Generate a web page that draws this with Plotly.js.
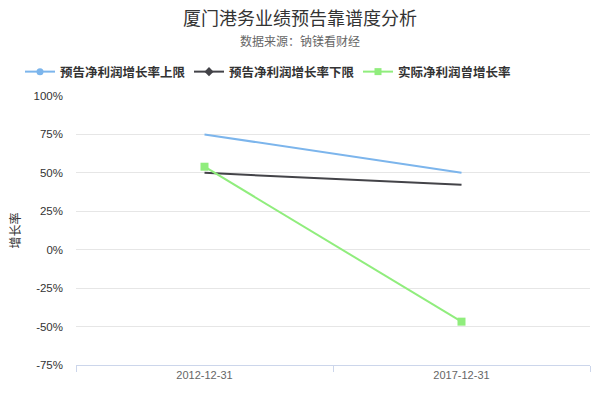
<!DOCTYPE html>
<html>
<head>
<meta charset="utf-8">
<script src="https://cdn.plot.ly/plotly-3.0.1.min.js"></script>
<style>
  html, body { margin: 0; padding: 0; background: #fff; }
  #chart { width: 600px; height: 400px; }
</style>
</head>
<body>
<div id="chart"></div>
<script>
var dates = ["2012-12-31", "2017-12-31"];
var upperGrowth = [75, 50];     // 预告净利润增长率上限 (%)
var lowerGrowth = [50, 42.2];   // 预告净利润增长率下限 (%)
var actualGrowth = [54, -46.8]; // 实际净利润曾增长率 (%)
var yTicks = [-75, -50, -25, 0, 25, 50, 75, 100];
var yTickText = yTicks.map(function (v) { return v + "%"; });

var FONT = "Liberation Sans, Arial, Noto Sans CJK SC, sans-serif";
var CJK = "Noto Sans CJK SC, Liberation Sans, sans-serif";

var names = ["预告净利润增长率上限", "预告净利润增长率下限", "实际净利润曾增长率"];
var colors = ["#7cb5ec", "#434348", "#90ed7d"];
var symbols = ["circle", "diamond", "square"];

var data = [
  { type: "scatter", mode: "lines", x: dates, y: upperGrowth,
    line: { color: colors[0], width: 2 }, legendgroup: "a", showlegend: false,
    hovertemplate: "%{y}%<extra>" + names[0] + "</extra>" },
  { type: "scatter", mode: "lines", x: dates, y: lowerGrowth,
    line: { color: colors[1], width: 2 }, legendgroup: "b", showlegend: false,
    hovertemplate: "%{y}%<extra>" + names[1] + "</extra>" },
  { type: "scatter", mode: "lines+markers", x: dates, y: actualGrowth,
    line: { color: colors[2], width: 2 }, legendgroup: "c", showlegend: false,
    marker: { symbol: "square", size: 8, color: colors[2] },
    hovertemplate: "%{y}%<extra>" + names[2] + "</extra>" }
];

// legend entries (with marker glyphs as in the original legend)
for (var i = 0; i < 3; i++) {
  data.push({
    type: "scatter", mode: "lines+markers", x: [null], y: [null],
    name: names[i], legendgroup: "abc"[i],
    line: { color: colors[i], width: 2 },
    marker: { symbol: symbols[i], size: 7, color: colors[i] }
  });
}

var plotH = 400 - 96 - 35;

var layout = {
  width: 600, height: 400,
  margin: { l: 76, r: 10, t: 96, b: 35 },
  paper_bgcolor: "#fff", plot_bgcolor: "#fff",
  font: { family: FONT, size: 11, color: "#333" },
  title: {
    text: "厦门港务业绩预告靠谱度分析",
    font: { family: CJK, size: 18, color: "#333" },
    x: 0.5, xanchor: "center", xref: "container",
    y: 1 - 19 / 400, yanchor: "middle", yref: "container"
  },
  annotations: [{
    text: "数据来源：钠镁看财经",
    xref: "paper", x: (300 - 76) / 514, xanchor: "center",
    yref: "paper", y: (400 - 35 - 40) / plotH, yanchor: "middle",
    showarrow: false,
    font: { family: CJK, size: 12, color: "#666" }
  }],
  showlegend: true,
  legend: {
    orientation: "h",
    xref: "container", x: 20 / 600, xanchor: "left",
    yref: "container", y: 1 - 72 / 400, yanchor: "middle",
    font: { family: CJK, size: 12.5, color: "#333", weight: "bold" },
    itemwidth: 30, traceorder: "normal",
    entrywidth: 124, entrywidthmode: "pixels"
  },
  xaxis: {
    type: "category",
    range: [-0.5, 1.5],
    showgrid: false, zeroline: false,
    showline: true, linecolor: "#ccd6eb", linewidth: 1,
    ticks: "outside", ticklen: 6, tickcolor: "#ccd6eb", tickson: "boundaries",
    tickfont: { family: FONT, size: 11, color: "#666" },
    fixedrange: true
  },
  yaxis: {
    range: [-75, 100],
    tickvals: yTicks,
    ticktext: yTickText,
    showgrid: true, gridcolor: "#e6e6e6", gridwidth: 1,
    zeroline: false, showline: false,
    ticks: "", ticklabelstandoff: 12,
    tickfont: { family: FONT, size: 11.5, color: "#333" },
    title: { text: "增长率", font: { family: CJK, size: 12, color: "#333" }, standoff: 10 },
    fixedrange: true
  }
};

Plotly.newPlot("chart", data, layout, { displayModeBar: false, responsive: false });
</script>
</body>
</html>
